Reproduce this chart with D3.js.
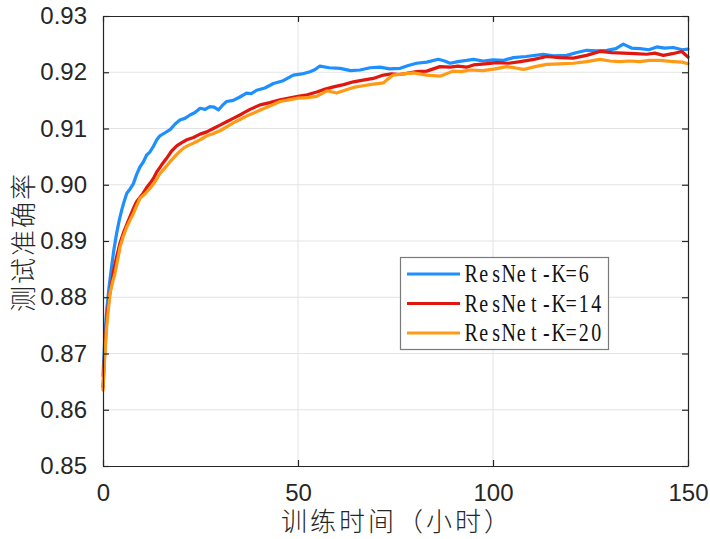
<!DOCTYPE html>
<html><head><meta charset="utf-8">
<script src="https://cdn.jsdelivr.net/npm/d3@7"></script>
<style>body{margin:0;background:#fff}</style>
</head><body>
<svg id="c" width="710" height="539"></svg>
<script>
const seriesNames = ["ResNet-K=6", "ResNet-K=14", "ResNet-K=20"];
const seriesColors = ["#1e8fff", "#e0170f", "#ff9a14"];
const xTicks = [0, 50, 100, 150];
const yTicks = [0.85, 0.86, 0.87, 0.88, 0.89, 0.90, 0.91, 0.92, 0.93];
const xLabel = "训练时间（小时）";
const yLabel = "测试准确率";

const blueT = [0,0.5,0.95,1.5,2.2,2.8,3.5,4.2,4.8,5.5,6.1,7.0,7.8,8.6,9.5,10.3,11.2,12.0,12.9,13.8,14.6,15.8,17.2,18.5,19.7,21.0,22.3,23.5,24.9,26.2,27.4,28.5,29.6,30.6,31.7,33.4,35.1,36.8,38.0,39.4,41.5,43.7,46.2,48.8,51.0,53.1,54.4,55.6,58.0,60.8,63.5,65.9,68.5,71.0,73.5,76.2,78.3,80.4,83.0,86.0,87.6,89.0,91.0,93.2,95.0,97.5,100,102.5,105.2,108.5,112.9,115.5,118.9,121.5,124,126.5,129.2,131.5,133.4,135.5,137.7,140,142,144,146.2,148.5,150];
const blueV = [0.8660,0.8735,0.8777,0.8815,0.8854,0.8885,0.8914,0.8938,0.8955,0.8972,0.8985,0.8993,0.9002,0.9018,0.9032,0.9040,0.9053,0.9058,0.9068,0.9080,0.9087,0.9092,0.9098,0.9108,0.9115,0.9118,0.9124,0.9128,0.9136,0.9134,0.9139,0.9138,0.9133,0.9141,0.9148,0.9150,0.9156,0.9163,0.9162,0.9168,0.9172,0.9180,0.9185,0.9195,0.9197,0.9201,0.9205,0.9211,0.9208,0.9207,0.9203,0.9204,0.9208,0.9209,0.9206,0.9207,0.9212,0.9216,0.9218,0.9223,0.9220,0.9216,0.9219,0.9221,0.9223,0.9220,0.9222,0.9221,0.9226,0.9228,0.9232,0.9229,0.9230,0.9235,0.9239,0.9238,0.9239,0.9242,0.9250,0.9243,0.9242,0.9240,0.9245,0.9243,0.9244,0.9240,0.9241];

const redT = [0,0.5,0.95,1.5,2.2,2.8,3.5,4.3,5.2,6.0,6.9,7.8,8.6,9.5,10.3,11.2,12.1,13.0,13.8,15.0,16.3,17.6,18.9,20.2,21.5,23.2,24.9,26.6,28.3,30.0,31.7,33.4,35.1,36.4,37.7,40.3,42.8,45.4,47.7,50,52.4,54.8,57.0,59.1,61.7,64.2,66.7,69.3,71.9,74.0,76.0,77.9,80.4,83.0,86.4,89.0,91.0,93.2,95.0,98.0,101,104,107,110.5,113.8,117,120.6,124,127.4,130.5,133.4,136.5,139.4,141.5,143.7,146,148.4,150];
const redV = [0.8640,0.8710,0.8760,0.8795,0.8825,0.8850,0.8872,0.8895,0.8914,0.8928,0.8943,0.8958,0.8970,0.8978,0.8985,0.8995,0.9003,0.9012,0.9023,0.9035,0.9047,0.9060,0.9069,0.9075,0.9080,0.9084,0.9090,0.9094,0.9100,0.9106,0.9112,0.9118,0.9124,0.9129,0.9134,0.9142,0.9146,0.9151,0.9154,0.9157,0.9160,0.9165,0.9170,0.9174,0.9178,0.9183,0.9186,0.9189,0.9195,0.9197,0.9196,0.9198,0.9201,0.9202,0.9210,0.9209,0.9211,0.9209,0.9213,0.9215,0.9217,0.9216,0.9219,0.9223,0.9228,0.9226,0.9225,0.9230,0.9237,0.9235,0.9234,0.9233,0.9232,0.9234,0.9230,0.9233,0.9237,0.9227];

const orangeT = [0,0.5,0.95,1.8,2.4,3.1,3.8,4.4,5.2,6.1,7.0,7.8,8.6,9.5,10.8,12.1,13.3,14.6,15.9,17.2,18.9,20.6,21.9,23.2,24.9,26.6,28.3,30.0,31.7,33.4,35.1,36.8,38.5,40.3,42.8,45.4,47.7,50,52.4,54.8,57.4,59.9,62.0,64.2,66.7,69.3,71.9,72.7,74.4,77.0,79.6,83,86.4,89.8,92,94.1,97.4,100.5,103.5,105.5,107.8,110.8,113.8,117,120.6,124,127.4,130,132.6,135,137.7,140,142.8,146.2,148.5,150];
const orangeV = [0.8635,0.8700,0.8748,0.8807,0.8825,0.8843,0.8868,0.8890,0.8908,0.8925,0.8938,0.8949,0.8962,0.8976,0.8984,0.8994,0.9005,0.9020,0.9030,0.9041,0.9054,0.9065,0.9070,0.9074,0.9080,0.9087,0.9091,0.9096,0.9103,0.9110,0.9116,0.9122,0.9127,0.9133,0.9140,0.9148,0.9151,0.9154,0.9155,0.9157,0.9167,0.9163,0.9168,0.9173,0.9176,0.9179,0.9181,0.9186,0.9195,0.9197,0.9199,0.9195,0.9193,0.9202,0.9201,0.9204,0.9203,0.9206,0.9210,0.9208,0.9205,0.9210,0.9214,0.9215,0.9216,0.9219,0.9223,0.9220,0.9219,0.9220,0.9219,0.9221,0.9221,0.9219,0.9218,0.9215];

const series = [
  {name: seriesNames[0], color: seriesColors[0], t: blueT, v: blueV},
  {name: seriesNames[1], color: seriesColors[1], t: redT, v: redV},
  {name: seriesNames[2], color: seriesColors[2], t: orangeT, v: orangeV}
];

const svg = d3.select("#c");
const L = 103, R = 688, T = 16, B = 466;
const x = d3.scaleLinear().domain([0, 150]).range([L, R]);
const y = d3.scaleLinear().domain([0.85, 0.93]).range([B, T]);
const axisColor = "#262626";
const tickFont = "'Liberation Sans', Arial, Helvetica, sans-serif";
const cjkFont = "'Liberation Sans', 'Noto Sans CJK SC', sans-serif";

// grid
const grid = svg.append("g");
grid.selectAll("line.gy").data(yTicks.slice(1, -1)).join("line")
  .attr("x1", L).attr("x2", R).attr("y1", d => y(d)).attr("y2", d => y(d))
  .attr("stroke", "#e3e3e3").attr("stroke-width", 1);
grid.selectAll("line.gx").data(xTicks.slice(1, -1)).join("line")
  .attr("y1", T).attr("y2", B).attr("x1", d => x(d)).attr("x2", d => x(d))
  .attr("stroke", "#e3e3e3").attr("stroke-width", 1);

// lines
const line = d3.line().x(d => x(d[0])).y(d => y(d[1]));
const plot = svg.append("g");
series.forEach(s => {
  const pts = s.t.map((t, i) => [t, s.v[i]]);
  plot.append("path").datum(pts).attr("d", line)
    .attr("fill", "none").attr("stroke", s.color).attr("stroke-width", 3.2)
    .attr("stroke-linejoin", "round").attr("stroke-linecap", "round");
});

// axes
const tickLen = 6;
const ax = svg.append("g").attr("class", "axes");
ax.append("g").attr("transform", `translate(0,${B})`)
  .call(d3.axisBottom(x).tickValues(xTicks).tickSizeInner(-tickLen).tickSizeOuter(0).tickPadding(18).tickFormat(d3.format("d")));
ax.append("g").attr("transform", `translate(0,${T})`)
  .call(d3.axisTop(x).tickValues(xTicks).tickSizeInner(-tickLen).tickSizeOuter(0).tickFormat(""));
ax.append("g").attr("transform", `translate(${L},0)`)
  .call(d3.axisLeft(y).tickValues(yTicks).tickSizeInner(-tickLen).tickSizeOuter(0).tickPadding(16).tickFormat(d3.format(".2f")));
ax.append("g").attr("transform", `translate(${R},0)`)
  .call(d3.axisRight(y).tickValues(yTicks).tickSizeInner(-tickLen).tickSizeOuter(0).tickFormat(""));
ax.selectAll(".domain").attr("stroke", axisColor).attr("stroke-width", 1.2);
ax.selectAll(".tick line").attr("stroke", axisColor).attr("stroke-width", 1.2);
ax.selectAll(".tick text").attr("fill", axisColor).style("font-family", tickFont).style("font-size", "24px");

// axis titles
svg.append("text").attr("x", (L + R) / 2 + 1.5).attr("y", 531).attr("text-anchor", "middle")
  .style("font-family", cjkFont).style("font-size", "26px").style("font-weight", 300)
  .style("letter-spacing", "3px")
  .attr("fill", axisColor).text(xLabel);
svg.append("text").attr("transform", `translate(33,${(T + B) / 2 + 1}) rotate(-90)`).attr("text-anchor", "middle")
  .style("font-family", cjkFont).style("font-size", "26px").style("font-weight", 300)
  .style("letter-spacing", "2px")
  .attr("fill", axisColor).text(yLabel);

// legend
const lg = svg.append("g");
lg.append("rect").attr("x", 400.5).attr("y", 257.5).attr("width", 208).attr("height", 92)
  .attr("fill", "#fff").attr("stroke", "#7a7a7a").attr("stroke-width", 1.2);
const pitch = 12.5, sx = 0.8;
series.forEach((s, i) => {
  const cy = 274 + i * 29.5;
  lg.append("line").attr("x1", 407).attr("x2", 460).attr("y1", cy).attr("y2", cy)
    .attr("stroke", s.color).attr("stroke-width", 3.2);
  const t = lg.append("text")
    .attr("transform", `translate(465,${cy + 8}) scale(${sx},1)`)
    .style("font-family", "'Liberation Serif', 'DejaVu Serif', serif").style("font-size", "25px")
    .attr("fill", "#111").attr("text-anchor", "middle");
  s.name.split("").forEach((ch, j) => {
    t.append("tspan").attr("x", (j * pitch + pitch / 2) / sx).attr("y", 0).text(ch);
  });
});
</script>
</body></html>
